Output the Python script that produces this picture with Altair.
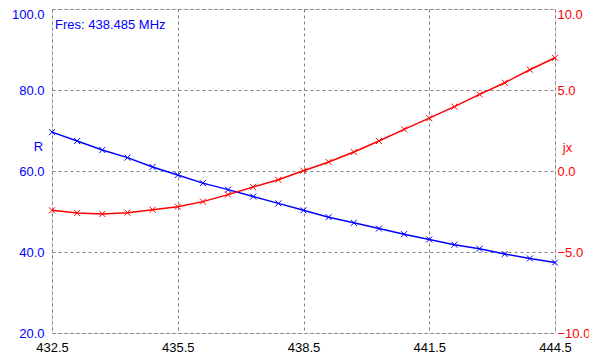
import altair as alt
import pandas as pd

freq = [432.5, 433.1, 433.7, 434.3, 434.9, 435.5, 436.1, 436.7, 437.3, 437.9, 438.5,
        439.1, 439.7, 440.3, 440.9, 441.5, 442.1, 442.7, 443.3, 443.9, 444.5]
r_vals = [69.6, 67.4, 65.2, 63.3, 61.0, 59.0, 57.0, 55.4, 53.7, 52.0, 50.3,
          48.6, 47.2, 45.8, 44.4, 43.1, 41.8, 40.8, 39.5, 38.4, 37.4]
jx_vals = [-2.43, -2.59, -2.65, -2.57, -2.39, -2.20, -1.89, -1.46, -0.99, -0.54, 0.02,
           0.56, 1.17, 1.85, 2.57, 3.26, 3.97, 4.73, 5.45, 6.25, 6.99]
x_ticks = [432.5, 435.5, 438.5, 441.5, 444.5]
r_ticks = [20, 40, 60, 80, 100]
jx_ticks = [-10, -5, 0, 5, 10]
annotation = "Fres: 438.485 MHz"

df = pd.DataFrame({"f": freq, "R": r_vals, "jx": jx_vals})

FONT = "Liberation Sans"
FS = 13
BLUE = "#0000ff"
RED = "#ff0000"
XSHAPE = "M-1,-1L1,1M1,-1L-1,1"

xenc = alt.X("f:Q", scale=alt.Scale(domain=[432.5, 444.5], nice=False, zero=False),
             axis=alt.Axis(values=x_ticks, format=".1f", title=None, grid=True,
                           gridDash=[3, 3], gridColor="#808080", gridWidth=1,
                           ticks=False, domain=False, labelFlush=False,
                           labelOverlap=False, labelPadding=8, labelColor="black",
                           labelFontSize=FS, labelFont=FONT))

blue = alt.Chart(df).mark_line(
    color=BLUE, strokeWidth=1.5,
    point=alt.OverlayMarkDef(shape=XSHAPE, filled=False, stroke=BLUE, strokeWidth=1, size=36)
).encode(
    x=xenc,
    y=alt.Y("R:Q", scale=alt.Scale(domain=[20, 100], nice=False, zero=False),
            axis=alt.Axis(orient="left", values=r_ticks, format=".1f", title="R",
                          titleAngle=0, titleX=-14, titleY=137, titleAlign="center",
                          titleBaseline="middle", titleColor=BLUE, titleFontWeight="normal",
                          titleFontSize=FS, titleFont=FONT,
                          grid=True, gridDash=[3, 3], gridColor="#808080", gridWidth=1,
                          ticks=False, domain=False, labelPadding=8, labelColor=BLUE,
                          labelFontSize=FS, labelFont=FONT, labelOverlap=False,
                          labelOffset={"condition": {"test": "datum.value == 100", "value": 5},
                                       "value": 0})),
)

red = alt.Chart(df).mark_line(
    color=RED, strokeWidth=1.5,
    point=alt.OverlayMarkDef(shape=XSHAPE, filled=False, stroke=RED, strokeWidth=1, size=36)
).encode(
    x=xenc,
    y=alt.Y("jx:Q", scale=alt.Scale(domain=[-10, 10], nice=False, zero=False),
            axis=alt.Axis(orient="right", values=jx_ticks, format=".1f", title="jx",
                          titleAngle=0, titleX=12, titleY=138, titleAlign="center",
                          titleBaseline="middle", titleColor=RED, titleFontWeight="normal",
                          titleFontSize=FS, titleFont=FONT,
                          grid=False, ticks=False, domain=False, labelPadding=2,
                          labelColor=RED, labelFontSize=FS, labelFont=FONT,
                          labelOverlap=False,
                          labelOffset={"condition": {"test": "datum.value == 10", "value": 5},
                                       "value": 0})),
)

text = alt.Chart(pd.DataFrame({"t": [annotation]})).mark_text(
    align="left", baseline="middle", color=BLUE, fontSize=FS, font=FONT
).encode(x=alt.value(3), y=alt.value(16), text="t:N")

chart = alt.layer(blue, red, text).resolve_scale(y="independent").properties(
    width=503, height=324,
    autosize=alt.AutoSizeParams(type="none"),
    padding={"left": 44, "top": 1, "right": 34, "bottom": 20},
).configure_view(stroke="black", strokeWidth=2).configure(background="white")

chart.save("out.html", embed_options={"renderer": "svg", "actions": False})
